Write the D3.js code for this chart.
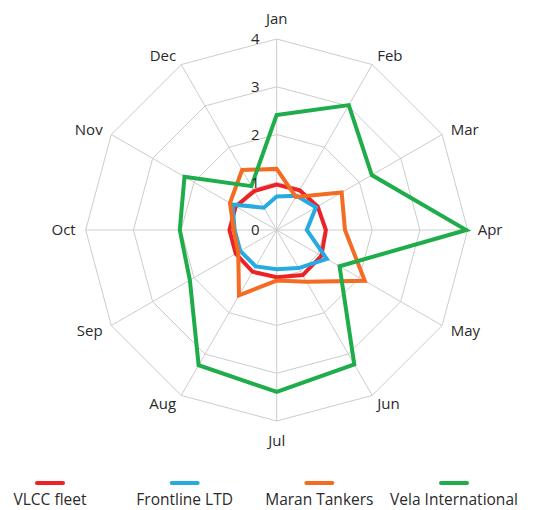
<!DOCTYPE html>
<html>
<head>
<meta charset="utf-8">
<script src="https://cdn.jsdelivr.net/npm/d3@7"></script>
<style>
  html, body { margin: 0; padding: 0; background: #ffffff; }
  svg text { font-family: "Open Sans", Lato, sans-serif; fill: #2a2a2a; }
</style>
</head>
<body>
<svg id="chart" width="535" height="510"></svg>
<script>
const months = ["Jan","Feb","Mar","Apr","May","Jun","Jul","Aug","Sep","Oct","Nov","Dec"];
const tickValues = [0, 1, 2, 3, 4];
const seriesNames = ["VLCC fleet", "Frontline LTD", "Maran Tankers", "Vela International"];
const seriesColors = ["#ec2227", "#27aae1", "#f36c21", "#1fad4b"];
const vlccFleet = [0.95, 0.96, 0.99, 1.03, 1.08, 1.09, 0.99, 1.01, 0.99, 0.99, 0.99, 0.94];
const frontlineLTD = [0.70, 0.83, 0.95, 0.63, 1.21, 0.92, 0.82, 0.88, 0.88, 0.88, 1.07, 0.54];
const maranTankers = [1.28, 0.80, 1.57, 1.43, 2.13, 1.25, 1.06, 1.58, 0.93, 0.90, 1.13, 1.45];
const velaInternational = [2.41, 3.02, 2.30, 3.97, 1.52, 3.25, 3.39, 3.27, 2.10, 2.03, 2.23, 1.06];
const seriesData = [vlccFleet, frontlineLTD, maranTankers, velaInternational];

const svg = d3.select("#chart");
const cx = 276.7, cy = 230;
const r = d3.scaleLinear().domain([0, 4]).range([0, 191]);
const angle = d3.scalePoint().domain(months).range([0, 2 * Math.PI * 11 / 12]);

const g = svg.append("g").attr("transform", `translate(${cx},${cy})`);

// grid rings
const ringLine = d3.lineRadial().curve(d3.curveLinearClosed)
  .angle(d => angle(d.m)).radius(d => r(d.v));
tickValues.filter(t => t > 0).forEach(t => {
  g.append("path")
    .attr("d", ringLine(months.map(m => ({m, v: t}))))
    .attr("fill", "none").attr("stroke", "#cccccc").attr("stroke-width", 1);
});
// spokes
months.forEach(m => {
  const a = angle(m);
  g.append("line")
    .attr("x1", 0).attr("y1", 0)
    .attr("x2", r(4) * Math.sin(a)).attr("y2", -r(4) * Math.cos(a))
    .attr("stroke", "#cccccc").attr("stroke-width", 1);
});

// series
const seriesLine = d3.lineRadial().curve(d3.curveLinearClosed)
  .angle((d, i) => angle(months[i])).radius(d => r(d));
seriesData.forEach((data, k) => {
  g.append("path")
    .attr("d", seriesLine(data))
    .attr("fill", "none")
    .attr("stroke", seriesColors[k])
    .attr("stroke-width", 4)
    .attr("stroke-linejoin", "miter");
});

// tick labels
tickValues.forEach(t => {
  g.append("text")
    .attr("x", -17).attr("y", -r(t))
    .attr("dy", "0.36em")
    .attr("text-anchor", "end")
    .attr("font-size", 15)
    .text(t);
});

// month labels
months.forEach(m => {
  const a = angle(m);
  const s = Math.sin(a), c = Math.cos(a);
  const vertical = Math.abs(s) < 0.01;
  const rr = r(4) + (vertical ? 20 : 10);
  g.append("text")
    .attr("x", rr * s).attr("y", -rr * c)
    .attr("dy", "0.36em")
    .attr("text-anchor", vertical ? "middle" : (s > 0 ? "start" : "end"))
    .attr("font-size", 15)
    .text(m);
});

// legend
const legendX = d3.scalePoint().domain(seriesNames).range([50, 454]);
const legend = svg.append("g");
seriesNames.forEach((name, k) => {
  const x = legendX(name);
  legend.append("line")
    .attr("x1", x - 13).attr("x2", x + 13)
    .attr("y1", 483).attr("y2", 483)
    .attr("stroke", seriesColors[k]).attr("stroke-width", 4)
    .attr("stroke-linecap", "round");
  legend.append("text")
    .attr("x", x).attr("y", 505)
    .attr("text-anchor", "middle").attr("font-size", 15.5)
    .text(name);
});
</script>
</body>
</html>
